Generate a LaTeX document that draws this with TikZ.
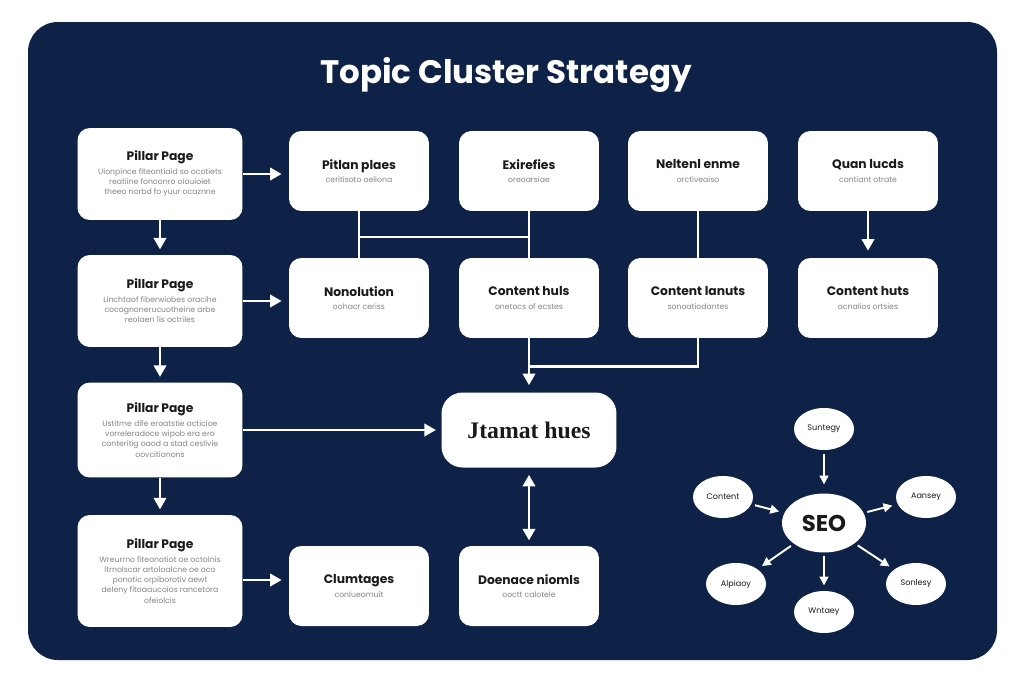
\documentclass[tikz,border=0pt]{standalone}
\usepackage{fontspec}
\setmainfont{Poppins}
\newfontfamily\hubfont{Liberation Serif}
\usetikzlibrary{arrows.meta,positioning,shapes.geometric,calc}
\definecolor{navy}{HTML}{0E2248}
\definecolor{ink}{HTML}{1A1A1A}
\definecolor{muted}{HTML}{858585}
\newcommand{\notefont}{\fontsize{4.4}{5.8}\selectfont\color{muted}}
\newcommand{\boxtitle}[1]{{\fontsize{7}{8}\selectfont\bfseries\color{ink}#1}}
\tikzset{
  pillar/.style={fill=white,rounded corners=7pt,minimum width=3.3cm,
                 inner sep=3pt,align=center,font=\notefont},
  card/.style={fill=white,rounded corners=7pt,minimum width=2.8cm,
               minimum height=1.6cm,inner sep=2pt,align=center,font=\notefont},
  hub/.style={fill=white,rounded corners=12pt,minimum width=3.5cm,
              minimum height=1.5cm,text=ink},
  bubble/.style={ellipse,fill=white,minimum width=1.2cm,minimum height=0.84cm,
                 inner sep=0pt,text=ink,font=\fontsize{4.6}{5}\selectfont},
  link/.style={white,line width=1.4pt},
  arrowwhite/.style={-{Triangle[length=6.5pt,width=7pt]},white,line width=1.4pt},
  arrowsmall/.style={-{Triangle[length=5pt,width=5pt]},white,line width=1.1pt},
  twoway/.style={{Triangle[length=6.5pt,width=7pt]}-{Triangle[length=6.5pt,width=7pt]},
                 white,line width=1.4pt},
}

\begin{document}
\begin{tikzpicture}[x=0.02cm,y=-0.02cm]
  % page and dark panel
  \fill[white](0,0)rectangle(1024,683);
  \useasboundingbox(0,0)rectangle(1024,683);
  \fill[navy,rounded corners=17pt](28,22)rectangle(997,660);
  \node[font=\fontsize{18.5}{22}\selectfont\bfseries,white](title)at(506,75)
    {Topic Cluster Strategy};

  % pillar column
  \node[pillar,minimum height=1.84cm](P1)at(160,174){%
    \boxtitle{Pillar Page}\\[2pt]
    Uionpince fiteontiaid so ocotiets\\
    reatiine fonoonro oiouioiet\\
    theeo norbd fo yuur ocaznne};
  \node[pillar,minimum height=1.84cm](P2)at(160,301){%
    \boxtitle{Pillar Page}\\[2pt]
    Linchtaof fiberwiobes oracihe\\
    cocognonerucuotheine arbe\\
    reolaen 1is octriles};
  \node[pillar,minimum height=1.9cm](P3)at(160,430){%
    \boxtitle{Pillar Page}\\[2pt]
    Ustitme dife eroatstie octicioe\\
    vorreleradoce wipob era ero\\
    conteritig oaod a stad ceslivie\\
    oovcitionons};
  \node[pillar,minimum height=2.24cm](P4)at(160,571){%
    \boxtitle{Pillar Page}\\[2pt]
    Wreurrno fiteonotiot oe octolnis\\
    ltrnolscar artoloalcne oe oco\\
    ponotic orpiborotiv aewt\\
    deleny fitoaaucoios rancetora\\
    ofeiolcis};

  % cluster cards, top row
  \node[card](B1)at(359,171){\boxtitle{Pitlan plaes}\\[2pt]ceritisoto oeliona};
  \node[card](B2)at(529,171){\boxtitle{Exirefies}\\[2pt]oreoarsiae};
  \node[card](B3)at(698,171){\boxtitle{Neltenl enme}\\[2pt]orctiveaiso};
  \node[card](B4)at(868,171){\boxtitle{Quan lucds}\\[2pt]contiant otrate};

  % cluster cards, second row
  \node[card](C1)at(359,298){\boxtitle{Nonolution}\\[2pt]oohacr ceriss};
  \node[card](C2)at(529,298){\boxtitle{Content huls}\\[2pt]onetocs of ecstes};
  \node[card](C3)at(698,298){\boxtitle{Content lanuts}\\[2pt]sonoatiodantes};
  \node[card](C4)at(868,298){\boxtitle{Content huts}\\[2pt]ocnalios ortsies};

  % hub and bottom cards
  \node[hub,font=\hubfont\fontsize{13.5}{16}\selectfont\bfseries](hub)at(529,430){Jtamat hues};
  \node[card](D1)at(359,586){\boxtitle{Clumtages}\\[2pt]conlueomuit};
  \node[card](D2)at(529,586){\boxtitle{Doenace niomls}\\[2pt]ooctt calotele};

  % SEO wheel
  \node[bubble,minimum width=1.68cm,minimum height=1.18cm,
        font=\fontsize{13}{15}\selectfont\bfseries](seo)at(824,523){SEO};
  \node[bubble](sTop)at(824,429){Suntegy};
  \node[bubble](sLeft)at(723,497){Content};
  \node[bubble](sRight)at(926,497){Aansey};
  \node[bubble](sLow)at(736,584){Alpiaoy};
  \node[bubble](sBot)at(824,612){Wntaey};
  \node[bubble](sLowR)at(916,584){Sonlesy};

  % pillar links
  \draw[arrowwhite,shorten >=3pt](P1.south)--(P2.north);
  \draw[arrowwhite,shorten >=3pt](P2.south)--(P3.north);
  \draw[arrowwhite,shorten >=3pt](P3.south)--(P4.north);
  \draw[arrowwhite,shorten >=4pt](P1.east)--(P1.east-|B1.west);
  \draw[arrowwhite,shorten >=4pt](P2.east)--(P2.east-|C1.west);
  \draw[arrowwhite,shorten >=3pt](P3.east)--(P3.east-|hub.west);
  \draw[arrowwhite,shorten >=4pt]($(P4.east)+(0,9)$)--($(D1.west)+(0,-6)$);

  % card tree
  \draw[link](B1.south)--(C1.north);
  \draw[link](B2.south)--(C2.north);
  \draw[link]($(B1.south)!0.55!(C1.north)$)--($(B2.south)!0.55!(C2.north)$);
  \draw[link](B3.south)--(C3.north);
  \draw[arrowwhite,shorten >=4pt](B4.south)--(C4.north);
  \coordinate(joint)at($(C2.south)+(0,28)$);
  \draw[link](C3.south)|-(joint);
  \draw[arrowwhite,shorten >=4pt](C2.south)--(hub.north);
  \draw[twoway,shorten <=4pt,shorten >=3pt](hub.south)--(D2.north);

  % SEO arrows
  \draw[arrowsmall,shorten <=2pt,shorten >=5pt](sTop)--(seo);
  \draw[arrowsmall,shorten <=2pt,shorten >=3pt](sLeft)--(seo);
  \draw[arrowsmall,shorten <=2pt,shorten >=3pt](seo)--(sRight);
  \draw[arrowsmall,shorten <=2pt,shorten >=3pt](seo)--(sLow);
  \draw[arrowsmall,shorten <=2pt,shorten >=3pt](seo)--(sBot);
  \draw[arrowsmall,shorten <=2pt,shorten >=3pt](seo)--(sLowR);
\end{tikzpicture}
\end{document}
